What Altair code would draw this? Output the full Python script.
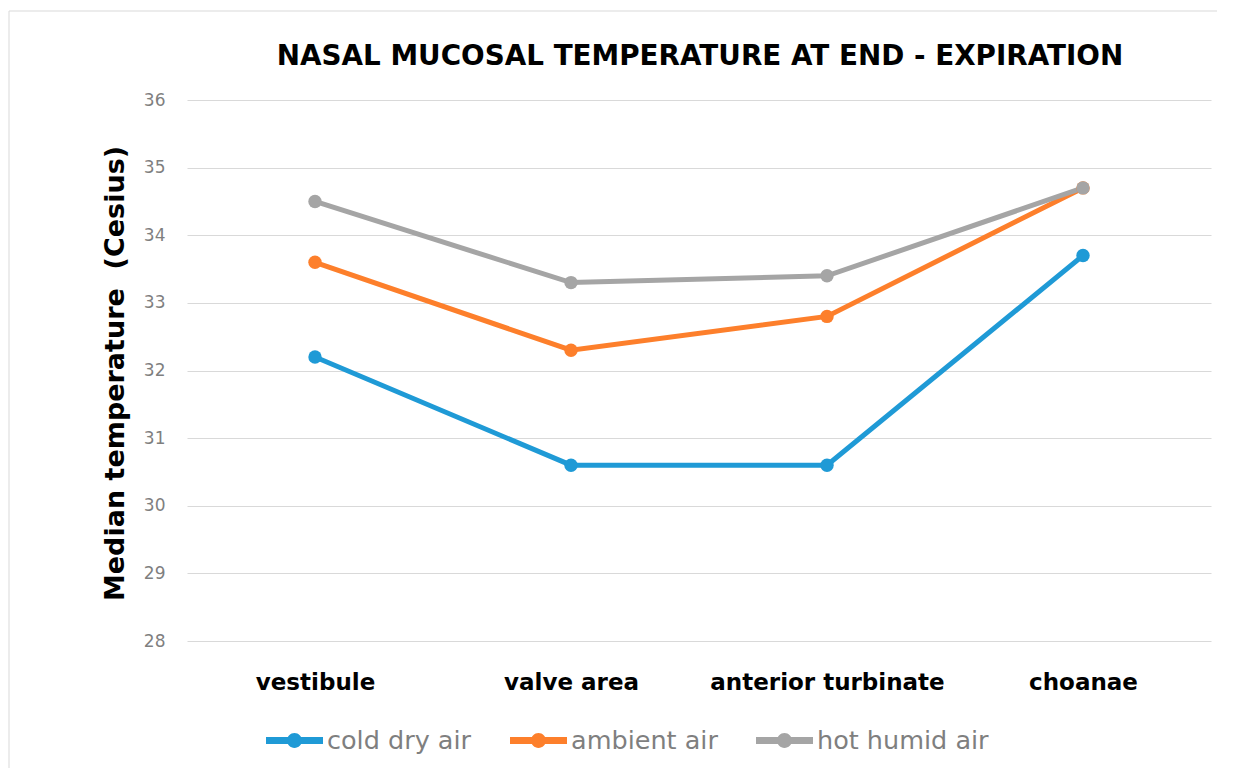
import altair as alt
import pandas as pd

sites = ["vestibule", "valve area", "anterior turbinate", "choanae"]
series = ["cold dry air", "ambient air", "hot humid air"]
cold_dry = [32.2, 30.6, 30.6, 33.7]
ambient = [33.6, 32.3, 32.8, 34.7]
hot_humid = [34.5, 33.3, 33.4, 34.7]
colors = ["#1f9ad6", "#fd7f2b", "#a5a5a5"]
y_ticks = [28, 29, 30, 31, 32, 33, 34, 35, 36]
chart_title = ["NASAL MUCOSAL TEMPERATURE AT END - EXPIRATION"]
y_title = "Median temperature\u00a0 (Cesius)"

rows = []
for name, vals in zip(series, [cold_dry, ambient, hot_humid]):
    for s, v in zip(sites, vals):
        rows.append({"site": s, "series": name, "temp": v})
df = pd.DataFrame(rows)

FONT = "DejaVu Sans"

x_enc = alt.X(
    "site:N",
    sort=sites,
    scale=alt.Scale(type="point", padding=0.5),
    axis=alt.Axis(
        title=None,
        labelAngle=0,
        labelFont=FONT,
        labelFontSize=23,
        labelFontWeight="bold",
        labelColor="#000000",
        labelPadding=30,
        labelLimit=400,
        ticks=False,
        tickSize=0,
        domain=False,
        grid=False,
    ),
)
y_enc = alt.Y(
    "temp:Q",
    scale=alt.Scale(domain=[28, 36], nice=False, zero=False),
    axis=alt.Axis(
        title=y_title,
        titleFont=FONT,
        titleFontSize=27,
        titleFontWeight="bold",
        titleColor="#000000",
        titleAngle=-90,
        titleBaseline="alphabetic",
        titleX=-64,
        titleY=273,
        values=y_ticks,
        labelFont=FONT,
        labelFontSize=17,
        labelColor="#7f7f7f",
        labelPadding=22,
        ticks=False,
        tickSize=0,
        domain=False,
        grid=True,
        gridColor="#d9d9d9",
        gridWidth=1,
    ),
)

legend_symbol = (
    "M-1,-0.12L1,-0.12L1,0.12L-1,0.12Z "
    "M0.26,0A0.26,0.26,0,1,1,-0.26,0A0.26,0.26,0,1,1,0.26,0Z"
)

base = alt.Chart(df)

lines = base.mark_line(strokeWidth=5).encode(
    x=x_enc,
    y=y_enc,
    stroke=alt.Stroke(
        "series:N", scale=alt.Scale(domain=series, range=colors), legend=None
    ),
    detail="series:N",
)

points = base.mark_point(filled=True, size=180, opacity=1).encode(
    x=x_enc,
    y=y_enc,
    fill=alt.Fill(
        "series:N",
        scale=alt.Scale(domain=series, range=colors),
        legend=alt.Legend(
            title=None,
            orient="none",
            direction="horizontal",
            legendX=79,
            legendY=612,
            symbolType=legend_symbol,
            symbolSize=3249,
            symbolStrokeWidth=0,
            symbolOpacity=1,
            labelFont=FONT,
            labelFontSize=25.5,
            labelColor="#7f7f7f",
            labelOffset=4,
            labelLimit=400,
            columnPadding=38,
            padding=0,
        ),
    ),
)

one = alt.Chart(pd.DataFrame({"a": [0]}))
border_top = one.mark_rule(stroke="#d9d9d9", strokeWidth=1).encode(
    x=alt.value(-178), x2=alt.value(1030), y=alt.value(-89)
)
border_left = one.mark_rule(stroke="#d9d9d9", strokeWidth=1).encode(
    x=alt.value(-178), y=alt.value(-89), y2=alt.value(670)
)

title_text = alt.Chart(pd.DataFrame({"t": chart_title})).mark_text(
    font=FONT,
    fontSize=27.8,
    fontWeight="bold",
    color="#000000",
    align="center",
    baseline="alphabetic",
).encode(text="t:N", x=alt.value(513), y=alt.value(-35))

chart = (
    alt.layer(border_top, border_left, title_text, lines, points)
    .properties(
        width=1024,
        height=541,
        autosize=alt.AutoSizeParams(type="none"),
        padding={"left": 179, "top": 92, "right": 20, "bottom": 127},
    )
    .resolve_scale(fill="independent", stroke="independent")
    .configure_view(stroke=None)
)

chart.save("out.html", embed_options={"renderer": "svg", "actions": False})
